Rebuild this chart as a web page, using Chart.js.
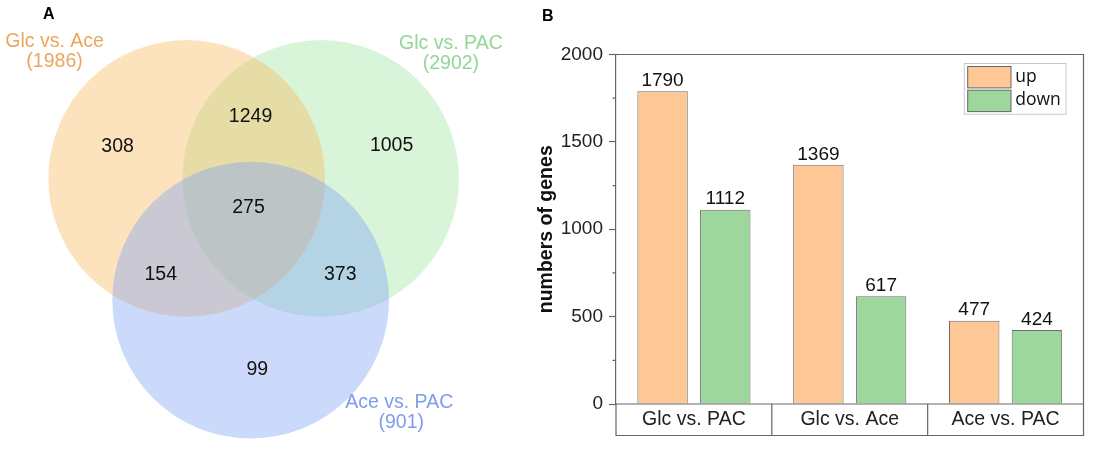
<!DOCTYPE html>
<html>
<head>
<meta charset="utf-8">
<script src="https://cdn.jsdelivr.net/npm/chart.js"></script>
<style>
  html, body { margin: 0; padding: 0; background: #fff; }
  #wrap { position: relative; width: 1093px; height: 449px; }
  #vennCanvas { position: absolute; left: 0; top: 0; }
  #barCanvas { position: absolute; left: 525px; top: 0; }
  .panel { position: absolute; font: bold 16px "Liberation Sans", Arial, sans-serif; color: #000; }
</style>
</head>
<body>
<div id="wrap">
  <canvas id="vennCanvas" width="525" height="449"></canvas>
  <canvas id="barCanvas" width="568" height="449"></canvas>
  <div class="panel" style="left:43px; top:5px;">A</div>
  <div class="panel" style="left:542px; top:7px;">B</div>
</div>
<script>
// ---- panel A : Venn ----
const setNames = ["Glc vs. Ace", "Glc vs. PAC", "Ace vs. PAC"];
const setTotals = [1986, 2902, 901];
const setColors = ["rgba(250,185,90,0.4)", "rgba(160,230,160,0.4)", "rgba(125,160,245,0.4)"];
const setTextColors = ["#eba65e", "#94d694", "#7f9deb"];
const setLayer = [1, 2, 0]; // chart.js order: higher is drawn first (green at the bottom, blue on top)
// circle centres in radius units
const circleX = [-0.49, 0.49, -0.022];
const circleY = [0.29, 0.29, -0.58];
// name label anchors (same units)
const setLabelX = [-1.457, 1.443, 1.065];
const setLabelY = [1.193, 1.179, -1.381];

// region counts: only A, only B, A&B, all, A&C, B&C, only C
const regionCounts = [308, 1005, 1249, 275, 154, 373, 99];
const regionX = [-0.996, 1.009, -0.023, -0.038, -0.680, 0.633, 0.026];
const regionY = [0.518, 0.525, 0.729, 0.081, -0.400, -0.400, -1.076];

// ---- panel B : bars ----
const comparisons = ["Glc vs. PAC", "Glc vs. Ace", "Ace vs. PAC"];
const upGenes = [1790, 1369, 477];
const downGenes = [1112, 617, 424];
const yTicks = [0, 500, 1000, 1500, 2000];

const FONT = '"Liberation Sans", Arial, sans-serif';

// pixel length of one radius unit, from the hidden scales
function unitRadius(chart) {
  const x = chart.scales.x, y = chart.scales.y;
  const rx = Math.abs(x.getPixelForValue(1) - x.getPixelForValue(0));
  const ry = Math.abs(y.getPixelForValue(0) - y.getPixelForValue(1));
  return (rx + ry) / 2;
}

const vennText = {
  id: "vennText",
  afterDatasetsDraw(chart) {
    const ctx = chart.ctx, x = chart.scales.x, y = chart.scales.y;
    ctx.save();
    ctx.textAlign = "center";
    ctx.textBaseline = "middle";
    ctx.font = "19.5px " + FONT;
    ctx.fillStyle = "#111";
    regionCounts.forEach((n, i) => {
      ctx.fillText(String(n), x.getPixelForValue(regionX[i]), y.getPixelForValue(regionY[i]));
    });
    setNames.forEach((name, i) => {
      const px = x.getPixelForValue(setLabelX[i]);
      const py = y.getPixelForValue(setLabelY[i]);
      ctx.fillStyle = setTextColors[i];
      ctx.fillText(name, px, py - 10);
      ctx.fillText("(" + setTotals[i] + ")", px + (i === 2 ? 2 : 0), py + 10);
    });
    ctx.restore();
  }
};

const venn = new Chart(document.getElementById("vennCanvas"), {
  type: "bubble",
  data: {
    datasets: setNames.map((name, i) => ({
      label: name,
      data: [{ x: circleX[i], y: circleY[i] }],
      backgroundColor: setColors[i],
      borderWidth: 0,
      order: setLayer[i]
    }))
  },
  options: {
    responsive: false,
    animation: false,
    events: [],
    clip: false,
    layout: { autoPadding: false, padding: 0 },
    plugins: { legend: { display: false }, tooltip: { enabled: false } },
    scales: {
      x: { type: "linear", display: false, min: -1.856, max: 1.985 },
      y: { type: "linear", display: false, min: -1.643, max: 1.564 }
    }
  },
  plugins: [vennText]
});
// scales are laid out now: give every circle a radius of one unit and redraw
const R = unitRadius(venn);
venn.data.datasets.forEach((ds, i) => {
  ds.data = [{ x: circleX[i], y: circleY[i], r: R }];
});
venn.update();

// ---- bar chart decorations ----
const barDeco = {
  id: "barDeco",
  afterDraw(chart) {
    const ctx = chart.ctx, area = chart.chartArea;
    const xs = chart.scales.x, ys = chart.scales.y;
    ctx.save();
    ctx.strokeStyle = "#666";
    ctx.lineWidth = 1.2;
    // frame top and right
    ctx.beginPath();
    ctx.moveTo(area.left, area.top);
    ctx.lineTo(area.right, area.top);
    ctx.lineTo(area.right, area.bottom);
    ctx.stroke();
    // category box under the axis
    const boxBottom = area.bottom + 31.5;
    ctx.beginPath();
    ctx.moveTo(area.left, area.bottom);
    ctx.lineTo(area.right, area.bottom);
    ctx.moveTo(area.left, area.bottom);
    ctx.lineTo(area.left, boxBottom);
    ctx.lineTo(area.right, boxBottom);
    ctx.lineTo(area.right, area.bottom);
    const half = (xs.getPixelForValue(1) - xs.getPixelForValue(0)) / 2;
    for (let i = 0; i < comparisons.length - 1; i++) {
      const px = xs.getPixelForValue(i) + half;
      ctx.moveTo(px, area.bottom);
      ctx.lineTo(px, boxBottom);
    }
    ctx.stroke();
    // minor ticks
    ctx.beginPath();
    for (let i = 0; i < yTicks.length - 1; i++) {
      const py = ys.getPixelForValue((yTicks[i] + yTicks[i + 1]) / 2);
      ctx.moveTo(area.left - 3.5, py);
      ctx.lineTo(area.left, py);
    }
    ctx.stroke();
    // values above bars
    ctx.fillStyle = "#111";
    ctx.font = "19px " + FONT;
    ctx.textAlign = "center";
    ctx.textBaseline = "bottom";
    chart.data.datasets.forEach((ds, di) => {
      chart.getDatasetMeta(di).data.forEach((bar, i) => {
        ctx.fillText(String(ds.data[i]), bar.x, bar.y - 1);
      });
    });
    // legend
    const lx = area.right - 119.2, ly = area.top + 9;
    ctx.strokeStyle = "#c8c8c8";
    ctx.lineWidth = 1;
    ctx.strokeRect(lx, ly, 101.7, 50.7);
    ctx.font = '17.5px "Open Sans", sans-serif';
    ctx.textAlign = "left";
    ctx.textBaseline = "middle";
    chart.data.datasets.forEach((ds, di) => {
      const sy = ly + 3 + di * 23.7;
      ctx.fillStyle = ds.backgroundColor;
      ctx.fillRect(lx + 3.4, sy, 43.3, 21.4);
      ctx.strokeStyle = "#666";
      ctx.strokeRect(lx + 3.4, sy, 43.3, 21.4);
      ctx.fillStyle = "#111";
      ctx.fillText(ds.label, lx + 51, sy + 10.2);
    });
    ctx.restore();
  }
};

new Chart(document.getElementById("barCanvas"), {
  type: "bar",
  data: {
    labels: comparisons,
    datasets: [
      { label: "up", data: upGenes, backgroundColor: "#fec896", borderColor: "#6e6e6e", borderWidth: 1 },
      { label: "down", data: downGenes, backgroundColor: "#9dd79c", borderColor: "#6e6e6e", borderWidth: 1 }
    ]
  },
  options: {
    responsive: false,
    animation: false,
    events: [],
    barPercentage: 0.804,
    categoryPercentage: 0.805,
    layout: { padding: { left: 0, right: 9.5, top: 54.5, bottom: 0 } },
    plugins: { legend: { display: false }, tooltip: { enabled: false } },
    scales: {
      x: {
        grid: { display: false, drawTicks: false },
        border: { display: false },
        ticks: { font: { family: FONT, size: 19.5 }, color: "#222", padding: 4 },
        afterFit: s => { s.height = 45; }
      },
      y: {
        min: 0,
        max: 2000,
        afterBuildTicks: s => { s.ticks = yTicks.map(v => ({ value: v })); },
        grid: { drawOnChartArea: false, drawTicks: true, tickLength: 7, tickColor: "#666", tickWidth: 1.2 },
        border: { display: true, color: "#666", width: 1.2 },
        ticks: { font: { family: FONT, size: 19 }, color: "#222", padding: 6, callback: v => String(v) },
        title: { display: true, text: "numbers of genes", font: { family: FONT, size: 19.5, weight: "bold" }, color: "#111", padding: { top: 10, bottom: 0 } },
        afterFit: s => { s.width = 91; }
      }
    }
  },
  plugins: [barDeco]
});
</script>
</body>
</html>
